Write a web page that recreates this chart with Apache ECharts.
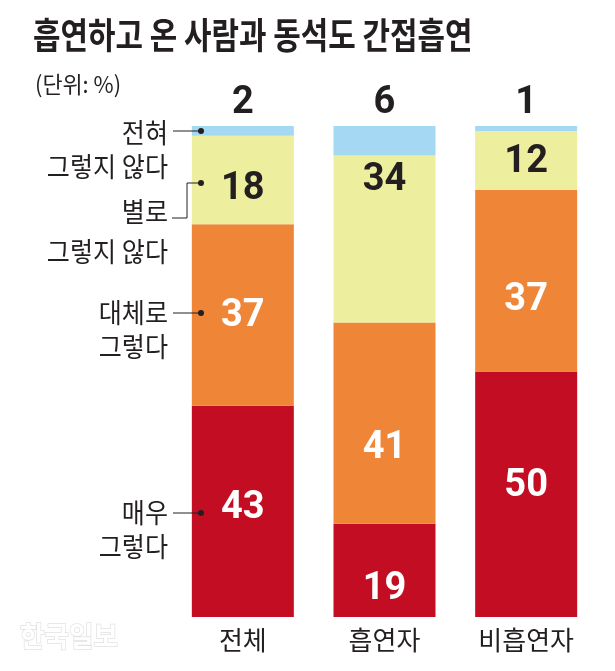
<!DOCTYPE html>
<html>
<head>
<meta charset="utf-8">
<script src="https://cdn.jsdelivr.net/npm/echarts@6/dist/echarts.min.js"></script>
<style>
html,body{margin:0;padding:0;background:#fff;}
#chart{width:615px;height:671px;}
</style>
</head>
<body>
<div id="chart"></div>
<script>
// ---- data ----
const categories = ['전체', '흡연자', '비흡연자'];
const veryMuch = [43, 19, 50];   // 매우 그렇다
const mostly = [37, 41, 37];     // 대체로 그렇다
const notMuch = [18, 34, 12];    // 별로 그렇지 않다
const notAtAll = [2, 6, 1];      // 전혀 그렇지 않다
const titleText = '흡연하고 온 사람과 동석도 간접흡연';
const unitText = '(단위: %)';

// ---- styling ----
const KR = "'Noto Sans CJK KR', sans-serif";
const NUM = "Roboto, 'Liberation Sans', sans-serif";
const INK = '#231f20';
const colors = { veryMuch: '#c30d23', mostly: '#ef8537', notMuch: '#eeee9f', notAtAll: '#a5d8f3' };
// vertical nudges of the value labels inside each segment
const labelShift = { veryMuch: [-3, 19, -8], mostly: [1, 25, 20], notMuch: [9, -58, 2] };

function seriesData(values, key) {
  return values.map((v, i) => ({ value: v, label: { offset: [0, labelShift[key][i]] } }));
}

const chart = echarts.init(document.getElementById('chart'), null, { renderer: 'canvas' });

function txt(x, y, text, opt) {
  return {
    type: 'text', x: x, y: y, z: 100, scaleX: opt.scaleX || 1, silent: true,
    style: {
      x: 0, y: 0, text: text, fill: opt.fill || INK,
      font: (opt.weight || 'normal') + ' ' + opt.size + 'px ' + KR,
      align: opt.align || 'left', verticalAlign: 'middle',
      stroke: opt.stroke, lineWidth: opt.lineWidth || 0
    }
  };
}
function dot(x, y) {
  return { type: 'circle', z: 101, shape: { cx: x, cy: y, r: 3 }, style: { fill: INK }, silent: true };
}
function lead(points) {
  return { type: 'polyline', z: 100, shape: { points: points }, style: { stroke: INK, lineWidth: 1, fill: null }, silent: true };
}

const legendSize = 27, legendScale = 0.93;
const graphics = [
  txt(33, 35, titleText, { size: 36, weight: 'bold', scaleX: 0.83 }),
  txt(35, 84, unitText, { size: 23, scaleX: 0.95 }),
  // 전혀 그렇지 않다
  txt(168, 133, '전혀', { size: legendSize, align: 'right', scaleX: legendScale }),
  txt(168, 167, '그렇지 않다', { size: legendSize, align: 'right', scaleX: legendScale }),
  lead([[173, 131], [201, 131]]), dot(201, 131),
  // 별로 그렇지 않다
  txt(168, 212, '별로', { size: legendSize, align: 'right', scaleX: legendScale }),
  txt(168, 252, '그렇지 않다', { size: legendSize, align: 'right', scaleX: legendScale }),
  lead([[172, 218], [187, 218], [187, 183], [201, 183]]), dot(201, 183),
  // 대체로 그렇다
  txt(168, 313, '대체로', { size: legendSize, align: 'right', scaleX: legendScale }),
  txt(168, 347, '그렇다', { size: legendSize, align: 'right', scaleX: legendScale }),
  lead([[173, 313], [201, 313]]), dot(201, 313),
  // 매우 그렇다
  txt(168, 513, '매우', { size: legendSize, align: 'right', scaleX: legendScale }),
  txt(168, 547, '그렇다', { size: legendSize, align: 'right', scaleX: legendScale }),
  lead([[173, 513], [201, 513]]), dot(201, 513),
  // watermark
  txt(20, 636, '한국일보', { size: 28, weight: 'bold', fill: '#ffffff', stroke: '#e2e2e2', lineWidth: 1.5, scaleX: 0.95 })
];

const insideLabel = (color) => ({
  show: true, position: 'inside', color: color,
  fontFamily: NUM, fontWeight: 'bold', fontSize: 38
});

const option = {
  animation: false,
  backgroundColor: '#ffffff',
  grid: { left: 172, right: 18, top: 126, bottom: 54, containLabel: false },
  xAxis: {
    type: 'category', data: categories,
    axisLine: { show: false }, axisTick: { show: false },
    axisLabel: { color: INK, fontFamily: KR, fontSize: 26, margin: 10 }
  },
  yAxis: { type: 'value', min: 0, max: 100, show: false, splitLine: { show: false } },
  series: [
    { name: '매우 그렇다', type: 'bar', stack: 'all', barWidth: 102,
      itemStyle: { color: colors.veryMuch }, label: insideLabel('#ffffff'),
      data: seriesData(veryMuch, 'veryMuch') },
    { name: '대체로 그렇다', type: 'bar', stack: 'all', barWidth: 102,
      itemStyle: { color: colors.mostly }, label: insideLabel('#ffffff'),
      data: seriesData(mostly, 'mostly') },
    { name: '별로 그렇지 않다', type: 'bar', stack: 'all', barWidth: 102,
      itemStyle: { color: colors.notMuch }, label: insideLabel(INK),
      data: seriesData(notMuch, 'notMuch') },
    { name: '전혀 그렇지 않다', type: 'bar', stack: 'all', barWidth: 102,
      itemStyle: { color: colors.notAtAll },
      label: { show: true, position: 'top', distance: 4, color: INK,
        fontFamily: NUM, fontWeight: 'bold', fontSize: 38 },
      data: notAtAll }
  ],
  graphic: { elements: graphics }
};
chart.setOption(option);
</script>
</body>
</html>
